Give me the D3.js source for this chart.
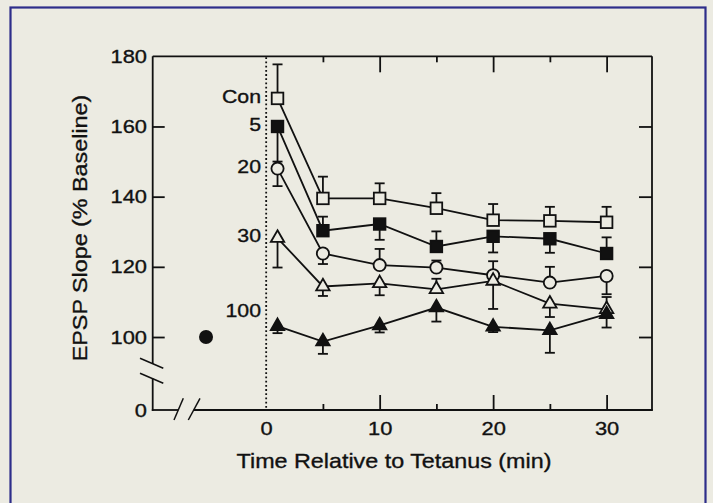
<!DOCTYPE html>
<html><head><meta charset="utf-8">
<script src="https://cdn.jsdelivr.net/npm/d3@7"></script>
<style>
html,body{margin:0;padding:0;background:#ecebe2;}
svg{display:block;}
text{font-family:"Liberation Sans",Arial,Helvetica,sans-serif;fill:#111;stroke:#111;stroke-width:0.35px;}
</style></head>
<body>
<svg id="chart" width="713" height="503"></svg>
<script>
// ---------- data ----------
const times = [1, 5, 10, 15, 20, 25, 30];
const seriesNames = ["Con", "5", "20", "30", "100"];
const conVals   = [168, 139.5, 139.5, 136.7, 133.3, 133.1, 132.7];
const conErr    = [9.7, 6.2, 4.3, 4.3, 4.6, 4.0, 4.4];
const conDir    = [1, 1, 1, 1, 1, 1, 1];
const fiveVals  = [160, 130.3, 132.2, 125.8, 128.7, 128.0, 123.8];
const fiveErr   = [10, 4.0, 4.5, 4.3, 4.6, 4.0, 4.6];
const fiveDir   = [-1, 1, -1, 1, -1, -1, 1];
const twentyVals= [148, 123.8, 120.5, 119.8, 117.6, 115.5, 117.4];
const twentyErr = [5.0, 3.0, 4.6, 2.0, 4.0, 4.5, 5.2];
const twentyDir = [-1, -1, 1, 1, 1, 1, -1];
const thirtyVals= [128.2, 114.4, 115.3, 113.6, 116.0, 109.5, 107.9];
const thirtyErr = [8.4, 2.7, 3.4, 3.0, 8.0, 3.8, 3.5];
const thirtyDir = [-1, -1, -1, 1, -1, -1, 1];
const hundredVals=[103.1, 98.7, 103.3, 108.4, 102.9, 101.9, 106.5];
const hundredErr= [2.0, 3.5, 2.0, 4.0, 1.5, 6.4, 3.8];
const hundredDir= [-1, -1, -1, -1, -1, -1, -1];
const baselineTime = -5.3;
const baselineVal = 100;
const yTickVals = [0, 100, 120, 140, 160, 180];
const xTickVals = [0, 10, 20, 30];
const xMinorVals = [5, 15, 25];
const xTitle = "Time Relative to Tetanus (min)";
const yTitle = "EPSP Slope (% Baseline)";

// ---------- layout ----------
const svg = d3.select("#chart");
const L = 152.7, R = 652, T = 56.3, B = 410;
const x = d3.scaleLinear().domain([-10, 34]).range([L, R]);
// broken axis: linear from 90 to 180, compressed segment from 0 to 90
const y = d3.scaleLinear().domain([0, 90, 180]).range([B, 372.1, T]);

function stretch(sel, k) {
  sel.each(function () {
    const len = this.getComputedTextLength();
    d3.select(this).attr("textLength", len * k).attr("lengthAdjust", "spacingAndGlyphs");
  });
}

// outer frame
svg.append("rect").attr("x", 10.5).attr("y", 7.5).attr("width", 695).attr("height", 520)
  .attr("fill", "none").attr("stroke", "#2e2d8a").attr("stroke-width", 2.2);

const ax = svg.append("g").attr("stroke", "#111");
const lw = 1.8;
// frame lines (with breaks)
ax.append("line").attr("x1", L).attr("x2", R).attr("y1", T).attr("y2", T).attr("stroke-width", lw);
ax.append("line").attr("x1", R).attr("x2", R).attr("y1", T).attr("y2", B).attr("stroke-width", lw);
ax.append("line").attr("x1", L).attr("x2", L).attr("y1", T).attr("y2", 364).attr("stroke-width", lw);
ax.append("line").attr("x1", L).attr("x2", L).attr("y1", 378.5).attr("y2", B + 0.9).attr("stroke-width", lw);
ax.append("line").attr("x1", L - 0.9).attr("x2", 178.3).attr("y1", B).attr("y2", B).attr("stroke-width", lw);
ax.append("line").attr("x1", 193.7).attr("x2", R + 0.9).attr("y1", B).attr("y2", B).attr("stroke-width", lw);
// break slashes
[[140, 358.3, 163.3, 368.3], [140, 373.3, 163.3, 383.3],
 [174, 420, 183.3, 398.3], [188.3, 420, 200, 398.3]].forEach(d => {
  ax.append("line").attr("x1", d[0]).attr("y1", d[1]).attr("x2", d[2]).attr("y2", d[3]).attr("stroke-width", 1.5);
});

function styleAxis(g) {
  g.select(".domain").remove();
  g.selectAll(".tick line").attr("stroke", "#111").attr("stroke-width", lw);
  g.selectAll("text").attr("fill", "#111").style("font-family", '"Liberation Sans",Arial,sans-serif').style("font-size", "19px");
}
// left axis
const gl = svg.append("g").attr("transform", `translate(${L},0)`)
  .call(d3.axisLeft(y).tickValues(yTickVals).tickSize(-12).tickPadding(5.7));
styleAxis(gl);
gl.selectAll(".tick").filter(d => d === 0 || d === 180).select("line").remove();
stretch(gl.selectAll("text"), 1.15);
// right axis
const gr = svg.append("g").attr("transform", `translate(${R},0)`)
  .call(d3.axisRight(y).tickValues(yTickVals.filter(v => v >= 100 && v < 180)).tickSize(-13).tickFormat(""));
styleAxis(gr);
// top axis
const gt = svg.append("g").attr("transform", `translate(0,${T})`)
  .call(d3.axisTop(x).tickValues(xTickVals.filter(v => v > 0)).tickSize(-16).tickFormat(""));
styleAxis(gt);
const gt2 = svg.append("g").attr("transform", `translate(0,${T})`)
  .call(d3.axisTop(x).tickValues(xMinorVals).tickSize(-6).tickFormat(""));
styleAxis(gt2);
// bottom axis
const gb = svg.append("g").attr("transform", `translate(0,${B})`)
  .call(d3.axisBottom(x).tickValues(xTickVals).tickSize(-15).tickPadding(11.5));
styleAxis(gb);
gb.selectAll(".tick").filter(d => d === 0).select("line").remove();
stretch(gb.selectAll("text"), 1.15);
const gb2 = svg.append("g").attr("transform", `translate(0,${B})`)
  .call(d3.axisBottom(x).tickValues(xMinorVals).tickSize(-6).tickFormat(""));
styleAxis(gb2);

// dotted tetanus line
svg.append("line").attr("x1", x(0)).attr("x2", x(0)).attr("y1", T + 1).attr("y2", B)
  .attr("stroke", "#111").attr("stroke-width", 1.8).attr("stroke-dasharray", "1.8,2.4");

// axis titles
const xt = svg.append("text").attr("x", 394).attr("y", 468.3)
  .attr("text-anchor", "middle").style("font-size", "21px").text(xTitle);
stretch(xt, 1.11);
const yt = svg.append("text").attr("transform", "translate(87,228) rotate(-90)")
  .attr("text-anchor", "middle").style("font-size", "21px").text(yTitle);
stretch(yt, 1.11);

// series
const series = [
  {name: seriesNames[0], vals: conVals, err: conErr, dir: conDir, shape: "square", fill: "#ecebe2", lab: 102.7},
  {name: seriesNames[1], vals: fiveVals, err: fiveErr, dir: fiveDir, shape: "square", fill: "#111", lab: 130.7},
  {name: seriesNames[2], vals: twentyVals, err: twentyErr, dir: twentyDir, shape: "circle", fill: "#ecebe2", lab: 172.7},
  {name: seriesNames[3], vals: thirtyVals, err: thirtyErr, dir: thirtyDir, shape: "triangle", fill: "#ecebe2", lab: 241.7},
  {name: seriesNames[4], vals: hundredVals, err: hundredErr, dir: hundredDir, shape: "triangle", fill: "#111", lab: 316.7}
];
const line = d3.line().x((d, i) => x(times[i])).y(d => y(d));
const gLines = svg.append("g"), gErr = svg.append("g"), gMk = svg.append("g");
const tri = d3.symbol().type(d3.symbolTriangle).size(78);
series.forEach(s => {
  gLines.append("path").attr("d", line(s.vals)).attr("fill", "none").attr("stroke", "#111").attr("stroke-width", 1.8);
  s.vals.forEach((v, i) => {
    const cx = x(times[i]), e = v + s.dir[i] * s.err[i];
    gErr.append("line").attr("x1", cx).attr("x2", cx).attr("y1", y(v)).attr("y2", y(e)).attr("stroke", "#111").attr("stroke-width", 1.8);
    gErr.append("line").attr("x1", cx - 5).attr("x2", cx + 5).attr("y1", y(e)).attr("y2", y(e)).attr("stroke", "#111").attr("stroke-width", 1.8);
  });
  const mk = gMk.append("g");
  s.vals.forEach((v, i) => {
    const cx = x(times[i]), cy = y(v);
    if (s.shape === "square") {
      mk.append("rect").attr("x", cx - 5.8).attr("y", cy - 5.8).attr("width", 11.6).attr("height", 11.6)
        .attr("fill", s.fill).attr("stroke", "#111").attr("stroke-width", 1.8);
    } else if (s.shape === "circle") {
      mk.append("circle").attr("cx", cx).attr("cy", cy).attr("r", 6.1)
        .attr("fill", s.fill).attr("stroke", "#111").attr("stroke-width", 1.8);
    } else {
      mk.append("path").attr("d", tri()).attr("transform", `translate(${cx},${cy})`)
        .attr("fill", s.fill).attr("stroke", "#111").attr("stroke-width", 1.8).attr("stroke-linejoin", "miter");
    }
  });
  const t = svg.append("text").attr("x", 261).attr("y", s.lab).attr("text-anchor", "end")
    .style("font-size", "19px").text(s.name);
  stretch(t, 1.12);
});
// baseline point
svg.append("circle").attr("cx", x(baselineTime)).attr("cy", y(baselineVal)).attr("r", 7).attr("fill", "#111");
</script>
</body></html>
